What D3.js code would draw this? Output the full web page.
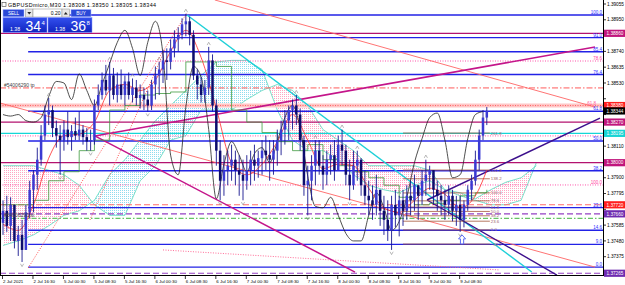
<!DOCTYPE html>
<html><head><meta charset="utf-8">
<script src="https://cdn.jsdelivr.net/npm/d3@7/dist/d3.min.js"></script>
<style>html,body{margin:0;padding:0;background:#fff;overflow:hidden}svg{display:block;font-family:"Liberation Sans",Arial,sans-serif}</style>
</head><body><svg id="c" width="625" height="285"></svg>
<script>
// ---------------- DATA ----------------
const titleText = "GBPUSDmicro,M30  1.38308 1.38350 1.38305 1.38344";
const timeLabels = ["2 Jul 2021","2 Jul 16:30","5 Jul 00:30","5 Jul 08:30","5 Jul 16:30","6 Jul 00:30","6 Jul 08:30","6 Jul 16:30","7 Jul 00:30","7 Jul 08:30","7 Jul 16:30","8 Jul 00:30","8 Jul 08:30","8 Jul 16:30","9 Jul 00:30","9 Jul 08:30"];
const timeTickIdx = [0,8,16,24,32,40,48,56,64,72,80,88,96,104,112,120];
const priceTicks = ["1.39055","1.38950","1.38845","1.38740","1.38635","1.38530","1.38425","1.38320","1.38215","1.38110","1.38005","1.37900","1.37795","1.37690","1.37585","1.37480","1.37375","1.37270"];

const firstOpen = 1.3760;
const highs = [1.3775,1.3778,1.3777,1.3772,1.3758,1.3762,1.3772,1.3788,1.3795,1.3810,
1.3825,1.3838,1.3843,1.3838,1.3828,1.3825,1.3828,1.3834,1.3825,1.3830,
1.3834,1.3825,1.3823,1.3822,1.3842,1.3852,1.3860,1.3865,1.3867,1.3863,
1.3860,1.3862,1.3858,1.3860,1.3856,1.3855,1.3852,1.3850,1.3848,1.3855,
1.3864,1.3867,1.3875,1.3876,1.3882,1.3888,1.3890,1.3896,1.3899,1.3897,
1.3888,1.3862,1.3857,1.3855,1.3877,1.3872,1.3842,1.3815,1.3805,1.3808,
1.3812,1.3808,1.3805,1.3802,1.3805,1.3808,1.3812,1.3808,1.3815,1.3818,
1.3815,1.3815,1.3822,1.3828,1.3835,1.3838,1.3842,1.3845,1.3836,1.3818,
1.3798,1.3805,1.3815,1.3815,1.3805,1.3808,1.3812,1.3815,1.3818,1.3822,
1.3812,1.3802,1.3808,1.3808,1.3803,1.3795,1.3788,1.3785,1.3792,1.3782,
1.3778,1.3775,1.3778,1.3782,1.3778,1.3782,1.3785,1.3788,1.3792,1.3785,
1.3795,1.3802,1.3798,1.3794,1.3788,1.3785,1.3782,1.3785,1.3782,1.3778,
1.3778,1.3775,1.3785,1.3792,1.3808,1.3822,1.3835,1.3837];
const lows = [1.3752,1.3754,1.3748,1.3743,1.3738,1.3734,1.3743,1.3763,1.3767,1.3782,
1.3798,1.3815,1.3825,1.3817,1.3810,1.3792,1.3808,1.3812,1.3808,1.3815,
1.3815,1.3812,1.3808,1.3808,1.3812,1.3835,1.3842,1.3845,1.3838,1.3842,
1.3840,1.3842,1.3838,1.3842,1.3840,1.3838,1.3836,1.3835,1.3834,1.3835,
1.3842,1.3845,1.3853,1.3855,1.3862,1.3870,1.3874,1.3882,1.3884,1.3878,
1.3855,1.3842,1.3840,1.3840,1.3845,1.3834,1.3798,1.3775,1.3778,1.3785,
1.3788,1.3785,1.3778,1.3775,1.3782,1.3785,1.3788,1.3790,1.3792,1.3795,
1.3788,1.3792,1.3798,1.3805,1.3812,1.3815,1.3822,1.3825,1.3808,1.3778,
1.3765,1.3775,1.3785,1.3792,1.3782,1.3785,1.3792,1.3788,1.3795,1.3798,
1.3785,1.3775,1.3782,1.3788,1.3778,1.3772,1.3765,1.3762,1.3765,1.3758,
1.3752,1.3748,1.3742,1.3757,1.3751,1.3758,1.3762,1.3765,1.3768,1.3762,
1.3772,1.3778,1.3782,1.3772,1.3768,1.3765,1.3762,1.3765,1.3761,1.3758,
1.3754,1.3757,1.3768,1.3775,1.3785,1.3795,1.3815,1.3825];
const closes = [1.3768,1.3758,1.3772,1.3748,1.3752,1.3742,1.3767,1.3782,1.3792,1.3802,
1.3818,1.3832,1.3835,1.3823,1.3818,1.3815,1.3822,1.3817,1.3821,1.3818,
1.3822,1.3817,1.3814,1.3815,1.3838,1.3845,1.3855,1.3848,1.3858,1.3845,
1.3852,1.3845,1.3854,1.3845,1.3850,1.3843,1.3845,1.3842,1.3838,1.3852,
1.3858,1.3862,1.3868,1.3867,1.3876,1.3882,1.3885,1.3892,1.3894,1.3885,
1.3858,1.3852,1.3845,1.3850,1.3868,1.3838,1.3808,1.3788,1.3795,1.3798,
1.3802,1.3795,1.3792,1.3788,1.3795,1.3802,1.3798,1.3803,1.3808,1.3805,
1.3802,1.3808,1.3815,1.3822,1.3828,1.3835,1.3838,1.3832,1.3815,1.3785,
1.3788,1.3798,1.3808,1.3798,1.3792,1.3802,1.3805,1.3795,1.3812,1.3808,
1.3792,1.3785,1.3798,1.3802,1.3785,1.3778,1.3775,1.3772,1.3782,1.3768,
1.3762,1.3755,1.3772,1.3765,1.3775,1.3768,1.3778,1.3775,1.3785,1.3778,
1.3788,1.3792,1.3795,1.3782,1.3778,1.3775,1.3772,1.3778,1.3768,1.3772,
1.3762,1.3772,1.3782,1.3788,1.3802,1.3818,1.3830,1.38344];

// black oscillating line (every 2 bars)
const oscValues = [1.3832,1.3831,1.3832,1.3828,1.3827,1.3830,1.3844,1.3854,1.3853,1.3842,
1.3859,1.3848,1.3838,1.3852,1.3866,1.3880,1.3888,1.3876,1.3858,1.3880,
1.3894,1.3872,1.3805,1.3792,1.3837,1.3864,1.3857,1.3822,1.3776,1.3799,
1.3814,1.3805,1.3794,1.3806,1.3810,1.3800,1.3814,1.3830,1.3838,1.3823,
1.3791,1.3771,1.3770,1.3777,1.3765,1.3753,1.3748,1.3748,1.3765,1.3780,
1.3770,1.3755,1.3761,1.3777,1.3800,1.3816,1.3830,1.3833,1.3815,1.3790,
1.3792,1.3816,1.3832,1.3834];
// Ichimoku lines (every 4 bars + last)
const tenkan = [1.3759,1.3755,1.3772,1.3803,1.3818,1.3819,1.3827,1.3848,1.3852,1.3848,1.3855,1.3874,1.3888,1.3870,1.3836,1.3800,1.3792,1.3799,1.3814,1.3832,1.3815,1.3796,1.3799,1.3798,1.3783,1.3770,1.3767,1.3775,1.3783,1.3779,1.3770,1.3778,1.3795];
const kijun = [1.3772,1.3772,1.3775,1.3788,1.3794,1.3808,1.3815,1.3835,1.3838,1.3845,1.3846,1.3847,1.3867,1.3867,1.3864,1.3835,1.3827,1.3820,1.3814,1.3808,1.3812,1.3802,1.3798,1.3794,1.3790,1.3785,1.3777,1.3772,1.3773,1.3775,1.3778,1.3780,1.3782];
const spanA = [1.3745,1.3748,1.3752,1.3758,1.3765,1.3768,1.3775,1.3792,1.3802,1.3815,1.3828,1.3838,1.3848,1.3858,1.3867,1.3868,1.3868,1.3862,1.3835,1.3815,1.3808,1.3808,1.3802,1.3792,1.3785,1.3782,1.3780,1.3785,1.3788,1.3782,1.3778,1.3775,1.3772,1.3772,1.3775,1.3800];
const spanB = [1.3798,1.3798,1.3798,1.3795,1.3792,1.3785,1.3772,1.3765,1.3765,1.3788,1.3798,1.3815,1.3818,1.3835,1.3835,1.3835,1.3842,1.3848,1.3852,1.3848,1.3838,1.3822,1.3815,1.3808,1.3798,1.3798,1.3798,1.3798,1.3795,1.3782,1.3780,1.3776,1.3782,1.3787,1.3790,1.3798];

// horizontal levels
const magentaLevels = [1.38860, 1.38270, 1.38000];
const cyanLevels = [1.38195];
const redBandLevels = [1.38380];
const pinkDotLevels = [1.38676, 1.38178, 1.37852];
const pinkDotLabels = ["78.6", "", "100.0"];
const redDashDotLevels = [1.38497];
const redDashLevels = [1.37720];
const purpleDashLevels = [1.37660, 1.37265];
const greenDashDotLevels = [1.37630];
const bidPrice = 1.38344;

// blue fibonacci
const fibBlueLow = 1.37306, fibBlueHigh = 1.38982, fibBlueStart = 6.6;
const fibBlueLevels = [0, 9, 14.6, 23.6, 38.2, 50, 61.8, 76.4, 85.4, 91, 100];
// brown fibonacci (small)
const fibBrownLow = 1.37553, fibBrownHigh = 1.37799, fibBrownFrom = 105, fibBrownTo = 127.8;
const fibBrownLevels = [-38.2, 0, 23.6, 38.2, 50, 61.8, 78.6, 100, 138.2, 161.8, 261.8];

// trend lines [barIndex, price]
const cyanTrend = [[48.3,1.38982],[138.8,1.37273]];
const redTrendA = [[55.6,1.39082],[155.4,1.38370]];
const redTrendB = [[-0.8,1.38397],[155.4,1.37306]];
const magentaUp = [[24.1,1.38178],[155.4,1.38769]];
const magentaDown = [[24.1,1.38178],[92.4,1.37273]];
const purpleUp = [[111.3,1.37752],[156.7,1.38297]];
const purpleDown = [[111.3,1.37752],[145.4,1.37253]];
const redDotted = [[[6.6,1.37300],[48.3,1.38996]],[[22.8,1.37619],[42.5,1.38750]],[[42,1.37420],[130.4,1.37287]]];

const fractalUp = [12, 28, 34, 41, 48, 54, 77, 82, 89, 93, 104, 111];
const fractalDown = [5, 15, 23, 38, 57, 63, 80, 91, 102, 120];
const arrowMark = [120.5, 1.3752];

const boxes = [
  {p:1.38860, kind:"mag"}, {p:1.38380, kind:"red"}, {p:bidPrice, kind:"bid"},
  {p:1.38270, kind:"mag"}, {p:1.38195, kind:"cyan"}, {p:1.38000, kind:"mag"},
  {p:1.37720, kind:"red"}, {p:1.37660, kind:"pur"}, {p:1.37265, kind:"pur"}];
const orderLabels = [{p:1.38497, t:"#54006290 tp"}, {p:1.37630, t:"#54006290 sl"}];
const panelLot = "0.20";
const sellPrice = ["1.38","34","4"], buyPrice = ["1.38","36","8"];

// ---------------- DRAW ----------------
const W = 625, H = 285, plotR = 603, plotB = 275;
const svg = d3.select("#c");
const x = d3.scaleLinear().domain([0, 157.5]).range([3, 603]);
const y = d3.scaleLinear().domain([1.39055, 1.37270]).range([4, 272.5]);
const defs = svg.append("defs");
defs.append("clipPath").attr("id","plot").append("rect").attr("x",0).attr("y",0).attr("width",plotR).attr("height",plotB);
function pat(id, col){
  const p = defs.append("pattern").attr("id",id).attr("width",2).attr("height",2).attr("patternUnits","userSpaceOnUse");
  p.append("rect").attr("width",1).attr("height",1).attr("fill",col);
}
pat("pc","#8fdcef"); pat("pp","#ffa6c2");
svg.append("rect").attr("width",W).attr("height",H).attr("fill","#fff");
const g = svg.append("g").attr("clip-path","url(#plot)");

// cloud
const cloudIdx = d3.range(0, 141, 4);
const cloud = cloudIdx.map((t,i)=>({t, a:spanA[i], b:spanB[i]}));
defs.append("clipPath").attr("id","aboveB").append("path").attr("d", d3.area().x(d=>x(d.t)).y0(0).y1(d=>y(d.b))(cloud));
defs.append("clipPath").attr("id","belowB").append("path").attr("d", d3.area().x(d=>x(d.t)).y0(plotB).y1(d=>y(d.b))(cloud));
const areaAB = d3.area().x(d=>x(d.t)).y0(d=>y(d.a)).y1(d=>y(d.b));
g.append("g").attr("clip-path","url(#aboveB)").append("path").attr("d", areaAB(cloud)).attr("fill","url(#pc)");
g.append("g").attr("clip-path","url(#belowB)").append("path").attr("d", areaAB(cloud)).attr("fill","url(#pp)");
const ln = d3.line().x(d=>x(d[0])).y(d=>y(d[1]));
g.append("path").attr("d", ln(cloud.map(d=>[d.t,d.a]))).attr("fill","none").attr("stroke","#6adcc4").attr("stroke-width",0.9);
g.append("path").attr("d", ln(cloud.map(d=>[d.t,d.b]))).attr("fill","none").attr("stroke","#6adcc4").attr("stroke-width",0.9);

// horizontal levels
function hline(p, col, w, dash, x0){
  g.append("line").attr("x1", x0===undefined?0:x0).attr("x2", plotR).attr("y1", y(p)).attr("y2", y(p))
   .attr("stroke", col).attr("stroke-width", w).attr("stroke-dasharray", dash||null);
}
redBandLevels.forEach(p=>{ hline(p,"#ffc6c6",4); hline(p,"#ff4a4a",0.8,"1,1.5"); });
pinkDotLevels.forEach(p=>hline(p,"#ff3fa0",0.9,"1,1.5"));
redDashDotLevels.forEach(p=>hline(p,"#ff5a5a",1,"6,2,1.5,2"));
redDashLevels.forEach(p=>hline(p,"#ff6c6c",1.1,"6,3"));
purpleDashLevels.forEach(p=>hline(p,"#9440c4",1.2,"6,3"));
greenDashDotLevels.forEach(p=>hline(p,"#66c466",1.1,"5,2,1.5,2"));
magentaLevels.forEach(p=>hline(p,"#b3126f",1.3));
cyanLevels.forEach(p=>hline(p,"#16d6d6",1.3));
// blue fib
fibBlueLevels.forEach(l=>{
  const p = fibBlueLow + l/100*(fibBlueHigh-fibBlueLow);
  hline(p, "#2222e6", 1.4, null, x(fibBlueStart));
});

// trend lines
function tl(pts, col, w, dash){
  g.append("path").attr("d", ln(pts)).attr("fill","none").attr("stroke",col).attr("stroke-width",w).attr("stroke-dasharray",dash||null);
}
redDotted.forEach((pts,i)=>tl(pts, i===2?"#ff5a8a":"#ff4040", 0.9, "1,1.5"));
tl(redTrendA,"#ff6464",0.9); tl(redTrendB,"#ff6464",0.9);
tl(magentaUp,"#c4158a",1.5); tl(magentaDown,"#c4158a",1.5);
tl(cyanTrend,"#1fd0d8",1.4);
tl(purpleUp,"#3c0f8c",1.4); tl(purpleDown,"#3c0f8c",1.4);

// brown fib
fibBrownLevels.forEach(l=>{
  const p = fibBrownLow + l/100*(fibBrownHigh-fibBrownLow);
  g.append("line").attr("x1",x(fibBrownFrom)).attr("x2",x(fibBrownTo)).attr("y1",y(p)).attr("y2",y(p)).attr("stroke","#a5563a").attr("stroke-width",0.8);
  g.append("text").attr("x",x(fibBrownTo)+1).attr("y",y(p)+1.5).attr("font-size",4.3).attr("fill","#9a5a6a").text(d3.format(".1f")(l));
});

// ichimoku tenkan/kijun
const lineIdx = d3.range(0,128,4).concat([127]);
g.append("path").attr("d", d3.line().x((d,i)=>x(lineIdx[i])).y(d=>y(d)).curve(d3.curveStepAfter)(kijun)).attr("fill","none").attr("stroke","#3f9a3f").attr("stroke-width",0.8);
g.append("path").attr("d", d3.line().x((d,i)=>x(lineIdx[i])).y(d=>y(d)).curve(d3.curveMonotoneX)(tenkan)).attr("fill","none").attr("stroke","#ff2a2a").attr("stroke-width",0.8);

// black line
const oscIdx = d3.range(0,128,2);
g.append("path").attr("d", d3.line().x((d,i)=>x(oscIdx[i])).y(d=>y(d)).curve(d3.curveMonotoneX)(oscValues)).attr("fill","none").attr("stroke","#222").attr("stroke-width",0.8);

// candles
const bars = closes.map((c,i)=>{
  const o = i===0 ? firstOpen : closes[i-1];
  return {i, o, c, h: Math.max(highs[i],o,c), l: Math.min(lows[i],o,c)};
});
const cg = g.append("g");
cg.selectAll("line.w").data(bars).join("line").attr("class","w")
  .attr("x1",d=>x(d.i)).attr("x2",d=>x(d.i)).attr("y1",d=>y(d.h)).attr("y2",d=>y(d.l))
  .attr("stroke","#16168e").attr("stroke-width",0.9);
cg.selectAll("rect").data(bars).join("rect")
  .attr("x",d=>x(d.i)-1.25).attr("width",2.5)
  .attr("y",d=>y(Math.max(d.o,d.c))).attr("height",d=>Math.max(0.8, Math.abs(y(d.o)-y(d.c))))
  .attr("fill",d=>d.c>=d.o?"#3a3ad2":"#0c0c6c");

// fractals
const fr = g.append("g").attr("fill","none").attr("stroke","#8a8a8a").attr("stroke-width",0.6);
fractalUp.forEach(i=>{ const cx=x(i), cy=y(bars[i].h)-3;
  fr.append("path").attr("d",`M${cx-1.6},${cy+1.2}L${cx},${cy-1.6}L${cx+1.6},${cy+1.2}`); });
fractalDown.forEach(i=>{ const cx=x(i), cy=y(bars[i].l)+3;
  fr.append("path").attr("d",`M${cx-1.6},${cy-1.2}L${cx},${cy+1.6}L${cx+1.6},${cy-1.2}`); });

// arrow
{ const ax=x(arrowMark[0]), ay=y(arrowMark[1]);
  g.append("path").attr("d",`M${ax},${ay}L${ax+3.5},${ay+4}L${ax+1.6},${ay+4}L${ax+1.6},${ay+9}L${ax-1.6},${ay+9}L${ax-1.6},${ay+4}L${ax-3.5},${ay+4}Z`)
   .attr("fill","#fff").attr("stroke","#4a5cf0").attr("stroke-width",0.9); }

// order labels
orderLabels.forEach(o=>g.append("text").attr("x",4).attr("y",y(o.p)-1.2).attr("font-size",5).attr("fill","#444").text(o.t));

// fib labels (right)
fibBlueLevels.forEach(l=>{
  const p = fibBlueLow + l/100*(fibBlueHigh-fibBlueLow);
  svg.append("text").attr("x",602).attr("y",y(p)-0.9).attr("text-anchor","end").attr("font-size",4.5).attr("fill","#2f2fff").text(d3.format(".1f")(l));
});
pinkDotLevels.forEach((p,i)=>{ if(pinkDotLabels[i]) svg.append("text").attr("x",602).attr("y",y(p)-0.9).attr("text-anchor","end").attr("font-size",4.5).attr("fill","#ff3fa0").text(pinkDotLabels[i]); });
svg.append("text").attr("x",596).attr("y",y(redBandLevels[0])-0.9).attr("text-anchor","end").attr("font-size",4.5).attr("fill","#ff5fa0").text("61.8");

// axes
svg.append("line").attr("x1",plotR+0.5).attr("x2",plotR+0.5).attr("y1",0).attr("y2",plotB+1).attr("stroke","#000").attr("stroke-width",1);
svg.append("line").attr("x1",0).attr("x2",plotR+1).attr("y1",plotB+0.5).attr("y2",plotB+0.5).attr("stroke","#000").attr("stroke-width",1);
svg.append("line").attr("x1",0.5).attr("x2",0.5).attr("y1",0).attr("y2",plotB+1).attr("stroke","#000").attr("stroke-width",1);
const boxYs = boxes.map(b=>y(b.p));
priceTicks.forEach(t=>{
  const yy = y(+t);
  svg.append("line").attr("x1",plotR).attr("x2",plotR+3).attr("y1",yy).attr("y2",yy).attr("stroke","#000").attr("stroke-width",0.8);
  if (boxYs.some(by=>Math.abs(by-yy) < 7)) return; // hidden behind a price box
  svg.append("text").attr("x",607).attr("y",yy+1.7).attr("font-size",4.7).attr("fill","#000").text(t);
});
timeTickIdx.forEach((t,i)=>{
  const xx = x(t)-0.5;
  svg.append("line").attr("x1",xx).attr("x2",xx).attr("y1",plotB).attr("y2",plotB+4).attr("stroke","#000").attr("stroke-width",0.8);
  svg.append("text").attr("x",xx+0.5).attr("y",283).attr("font-size",4.4).attr("fill","#000").text(timeLabels[i]);
});
// price boxes
const boxCol = {mag:"#c0157c", red:"#ff1e1e", bid:"#000", cyan:"#18d4d4", pur:"#6e2bb0"};
boxes.forEach(b=>{
  const yy = y(b.p);
  svg.append("rect").attr("x",plotR+1).attr("y",yy-3.6).attr("width",21).attr("height",7.2).attr("fill",boxCol[b.kind]);
  svg.append("text").attr("x",606.5).attr("y",yy+1.7).attr("font-size",4.7).attr("fill","#fff").text(d3.format(".5f")(b.p));
});

// title
svg.append("rect").attr("x",2).attr("y",2.5).attr("width",4).attr("height",4).attr("fill","#fff").attr("stroke","#444").attr("stroke-width",0.6);
svg.append("text").attr("x",8).attr("y",7).attr("font-size",5.4).attr("fill","#000").attr("textLength",148).attr("lengthAdjust","spacing").text(titleText);

// trade panel
const pn = svg.append("g");
function btn(x0,w,label){
  pn.append("rect").attr("x",x0).attr("y",9.5).attr("width",w).attr("height",7.3).attr("fill","#2a48d8").attr("stroke","#a8b6ff").attr("stroke-width",0.5);
  pn.append("text").attr("x",x0+w/2).attr("y",15).attr("text-anchor","middle").attr("font-size",4.6).attr("fill","#fff").text(label);
}
btn(3,21,"SELL"); btn(71,20,"BUY");
pn.append("rect").attr("x",25.5).attr("y",9).attr("width",7.5).attr("height",8).attr("fill","#e8e8e8").attr("stroke","#8a8a8a").attr("stroke-width",0.5);
pn.append("path").attr("d","M27.3,12L31.2,12L29.25,14.6Z").attr("fill","#222");
pn.append("rect").attr("x",33).attr("y",9).attr("width",29).attr("height",8).attr("fill","#fff").attr("stroke","#8a8a8a").attr("stroke-width",0.5);
pn.append("text").attr("x",60.5).attr("y",15).attr("text-anchor","end").attr("font-size",5).attr("fill","#000").text(panelLot);
pn.append("rect").attr("x",62).attr("y",9).attr("width",7.5).attr("height",8).attr("fill","#e8e8e8").attr("stroke","#8a8a8a").attr("stroke-width",0.5);
pn.append("path").attr("d","M63.8,14.6L67.7,14.6L65.75,12Z").attr("fill","#222");
const grad = defs.append("linearGradient").attr("id","bg").attr("x1",0).attr("x2",0).attr("y1",0).attr("y2",1);
grad.append("stop").attr("offset",0).attr("stop-color","#3350ee");
grad.append("stop").attr("offset",1).attr("stop-color","#1024c0");
function bigBox(x0, parts){
  pn.append("rect").attr("x",x0).attr("y",17.5).attr("width",44).attr("height",15).attr("fill","url(#bg)").attr("stroke","#8898ff").attr("stroke-width",0.5);
  pn.append("text").attr("x",x0+7).attr("y",30.5).attr("font-size",5.2).attr("fill","#fff").text(parts[0]);
  pn.append("text").attr("x",x0+22.5).attr("y",31).attr("font-size",14).attr("fill","#fff").text(parts[1]);
  pn.append("text").attr("x",x0+38.5).attr("y",24.5).attr("font-size",6).attr("fill","#fff").text(parts[2]);
}
bigBox(3, sellPrice); bigBox(48, buyPrice);
</script></body></html>
